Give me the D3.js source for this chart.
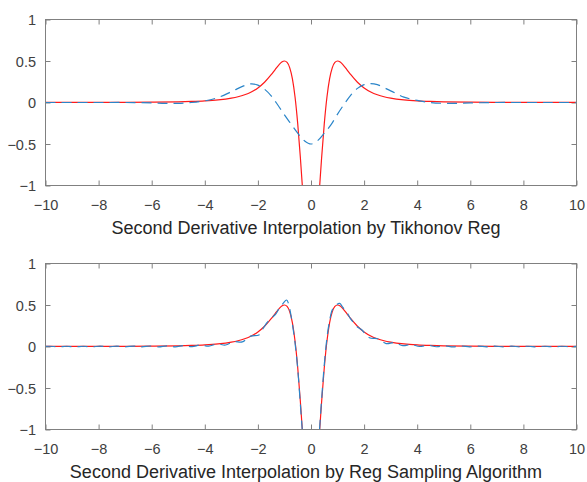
<!DOCTYPE html>
<html>
<head>
<meta charset="utf-8">
<script src="https://cdn.jsdelivr.net/npm/d3@7"></script>
<style>
  html, body { margin: 0; padding: 0; background: #fff; }
  svg { display: block; }
  text { font-family: "Liberation Sans", Arial, Helvetica, sans-serif; }
</style>
</head>
<body>
<svg id="chart" width="587" height="482"></svg>
<script>
// ---------------- data ----------------
const xTicks = [-10, -8, -6, -4, -2, 0, 2, 4, 6, 8, 10];
const xTickLabels = ["-10", "-8", "-6", "-4", "-2", "0", "2", "4", "6", "8", "10"];
const yTicks = [-1, -0.5, 0, 0.5, 1];
const yTickLabels = ["-1", "-0.5", "0", "0.5", "1"];
const titles = [
  "Second Derivative Interpolation by Tikhonov Reg",
  "Second Derivative Interpolation by Reg Sampling Algorithm"
];

// exact second derivative (red, solid) – same in both panels
const redX = [-10, -9, -8, -7, -6, -5, -4.5, -4, -3.5, -3, -2.75, -2.5, -2.25, -2, -1.75, -1.5, -1.35, -1.2, -1.1, -1,
  -0.9, -0.8, -0.7, -0.6, -0.5, -0.4, -0.3, -0.2, -0.1, 0,
  0.1, 0.2, 0.3, 0.4, 0.5, 0.6, 0.7, 0.8, 0.9, 1, 1.1, 1.2, 1.35, 1.5, 1.75, 2, 2.25, 2.5, 2.75, 3, 3.5, 4, 4.5, 5, 6, 7, 8, 9, 10];
const redY = [0.0006, 0.0009, 0.0014, 0.0023, 0.0042, 0.0084, 0.0125, 0.0191, 0.0307, 0.052, 0.0691, 0.0932, 0.1274, 0.176, 0.2442, 0.335, 0.3974, 0.4571, 0.4873, 0.5,
  0.4823, 0.4172, 0.2842, 0.0636, -0.256, -0.6663, -1.127, -1.5646, -1.883, -2,
  -1.883, -1.5646, -1.127, -0.6663, -0.256, 0.0636, 0.2842, 0.4172, 0.4823, 0.5, 0.4873, 0.4571, 0.3974, 0.335, 0.2442, 0.176, 0.1274, 0.0932, 0.0691, 0.052, 0.0307, 0.0191, 0.0125, 0.0084, 0.0042, 0.0023, 0.0014, 0.0009, 0.0006];

// Tikhonov interpolation (blue, dashed) – top panel
const tikX = [-10, -9, -8, -7, -6, -5.5, -5, -4.5, -4, -3.5, -3, -2.5, -2.25, -2, -1.75, -1.5, -1.25, -1, -0.75, -0.5, -0.25, 0,
  0.25, 0.5, 0.75, 1, 1.25, 1.5, 1.75, 2, 2.25, 2.5, 3, 3.5, 4, 4.5, 5, 5.5, 6, 7, 8, 9, 10];
const tikY = [0, 0, 0, 0, -0.005, -0.01, -0.01, 0, 0.02, 0.06, 0.13, 0.205, 0.225, 0.21, 0.16, 0.08, -0.03, -0.15, -0.26, -0.37, -0.46, -0.5,
  -0.46, -0.37, -0.27, -0.14, -0.02, 0.09, 0.17, 0.215, 0.228, 0.215, 0.14, 0.065, 0.025, 0, -0.01, -0.01, -0.005, 0, 0, 0, 0];

// Reg sampling interpolation (blue, dashed) – bottom panel
const rsaX = [-10, -9.835, -9.52, -9.205, -8.89, -8.575, -8.26, -7.945, -7.63, -7.315, -7, -6.685, -6.37, -6.055, -5.74, -5.425,
  -5.11, -4.795, -4.48, -4.165, -3.85, -3.535, -3.22, -2.905, -2.59, -2.275, -1.96, -1.8, -1.65, -1.5, -1.33, -1.2, -1.05,
  -0.92, -0.85, -0.78, -0.7, -0.6, -0.5, -0.4, -0.3, -0.2, 0,
  0.2, 0.3, 0.4, 0.5, 0.6, 0.7, 0.8, 0.95, 1.08, 1.2, 1.35, 1.5, 1.6, 1.75, 1.9, 2.2, 2.515, 2.83, 3.145, 3.46, 3.775,
  4.09, 4.405, 4.72, 5.035, 5.35, 5.665, 5.98, 6.295, 6.61, 6.925, 7.24, 7.555, 7.87, 8.185, 8.5, 8.815, 9.13, 9.445, 9.76, 10];
const rsaY = [0.001, 0.003, -0.004, 0.003, -0.004, 0.003, -0.004, 0.004, -0.004, 0.004, -0.004, 0.005, -0.004, 0.006, -0.004, 0.008,
  -0.004, 0.011, -0.002, 0.018, 0.004, 0.031, 0.018, 0.059, 0.055, 0.125, 0.14, 0.22, 0.29, 0.34, 0.39, 0.46, 0.52,
  0.56, 0.52, 0.42, 0.27, 0.04, -0.27, -0.7, -1.13, -1.56, -2,
  -1.56, -1.1, -0.64, -0.22, 0.1, 0.31, 0.44, 0.5, 0.52, 0.47, 0.41, 0.33, 0.29, 0.235, 0.205, 0.105, 0.093, 0.035, 0.046, 0.01, 0.025,
  0, 0.015, -0.003, 0.009, -0.004, 0.006, -0.004, 0.005, -0.004, 0.004, -0.004, 0.004, -0.004, 0.003, -0.004, 0.003, -0.004, 0.003, -0.003, 0.001];

// ---------------- drawing ----------------
const svg = d3.select("#chart");
const FONT = '"Liberation Sans", Arial, Helvetica, sans-serif';
const axisColor = "#808080";
const textColor = "#404040";
const red = "#ff1a1a";
const blue = "#2a85c9";

const panels = [
  { top: 19.5, bottom: 185.5, title: titles[0], bx: tikX, by: tikY },
  { top: 263.5, bottom: 429.5, title: titles[1], bx: rsaX, by: rsaY }
];

const x = d3.scaleLinear().domain([-10, 10]).range([45.5, 576.5]);

panels.forEach((p, pi) => {
  const y = d3.scaleLinear().domain([-1, 1]).range([p.bottom, p.top]);
  const g = svg.append("g");

  g.append("clipPath").attr("id", "clip" + pi)
    .append("rect")
    .attr("x", x.range()[0]).attr("y", p.top)
    .attr("width", x.range()[1] - x.range()[0]).attr("height", p.bottom - p.top);

  // axes with inward ticks
  const axB = g.append("g").attr("transform", `translate(0,${p.bottom})`)
    .call(d3.axisBottom(x).tickValues(xTicks).tickFormat((d, i) => xTickLabels[i].replace("-", "\u2212"))
      .tickSizeInner(-5).tickSizeOuter(0).tickPadding(14.2));
  const axT = g.append("g").attr("transform", `translate(0,${p.top})`)
    .call(d3.axisTop(x).tickValues(xTicks).tickFormat("").tickSizeInner(-5).tickSizeOuter(0));
  const axL = g.append("g").attr("transform", `translate(${x.range()[0]},0)`)
    .call(d3.axisLeft(y).tickValues(yTicks).tickFormat((d, i) => yTickLabels[i].replace("-", "\u2212"))
      .tickSizeInner(-5).tickSizeOuter(0).tickPadding(9.5));
  const axR = g.append("g").attr("transform", `translate(${x.range()[1]},0)`)
    .call(d3.axisRight(y).tickValues(yTicks).tickFormat("").tickSizeInner(-5).tickSizeOuter(0));

  [axB, axT, axL, axR].forEach(a => {
    a.select(".domain").remove();
    a.selectAll(".tick line").attr("stroke", axisColor).attr("stroke-width", 1);
    a.selectAll(".tick text").attr("fill", textColor).attr("font-size", 14.5).attr("font-family", FONT);
  });
  axL.selectAll(".tick text").attr("dy", "0.35em");

  // lines
  const line = d3.line().x(d => x(d[0])).y(d => y(d[1]));
  const redData = redX.map((v, i) => [v, redY[i]]);
  const blueData = p.bx.map((v, i) => [v, p.by[i]]);

  const plot = g.append("g").attr("clip-path", `url(#clip${pi})`);
  plot.append("path").datum(redData)
    .attr("d", line.curve(d3.curveMonotoneX))
    .attr("fill", "none").attr("stroke", red).attr("stroke-width", 1.2);
  plot.append("path").datum(blueData)
    .attr("d", line.curve(d3.curveCatmullRom.alpha(0.5)))
    .attr("fill", "none").attr("stroke", blue).attr("stroke-width", 1.2)
    .attr("stroke-dasharray", "10,6");

  // box
  g.append("rect")
    .attr("x", x.range()[0]).attr("y", p.top)
    .attr("width", x.range()[1] - x.range()[0]).attr("height", p.bottom - p.top)
    .attr("fill", "none").attr("stroke", axisColor).attr("stroke-width", 1);

  // x label
  g.append("text")
    .attr("x", 306).attr("y", p.bottom + 48.8)
    .attr("text-anchor", "middle")
    .attr("font-size", 18).attr("font-family", FONT)
    .attr("fill", "#262626")
    .text(p.title);
});
</script>
</body>
</html>
